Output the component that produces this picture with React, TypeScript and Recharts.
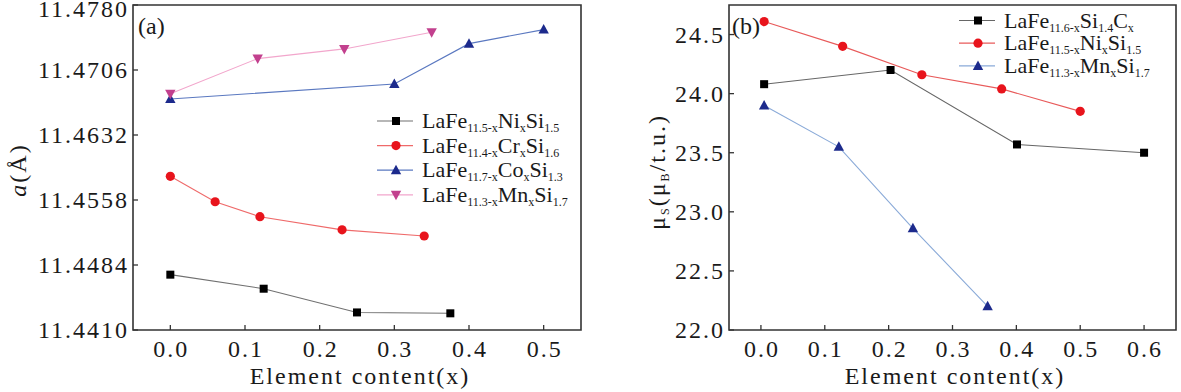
import React from 'react';
import { LineChart, Line, XAxis, YAxis, ReferenceArea } from 'recharts';

const FONT = '"Liberation Serif", "DejaVu Serif", serif';
const TXT = { fontFamily: FONT };

// panel (a): lattice parameter
const niX = [0, 0.125, 0.25, 0.375];
const niA = [11.4473, 11.4457, 11.443, 11.4429];
const crX = [0, 0.06, 0.12, 0.23, 0.34];
const crA = [11.4585, 11.4556, 11.4539, 11.4524, 11.4517];
const coX = [0, 0.3, 0.4, 0.5];
const coA = [11.4673, 11.469, 11.4736, 11.4752];
const mnX = [0, 0.117, 0.233, 0.35];
const mnA = [11.4679, 11.4719, 11.473, 11.4749];

// panel (b): saturation moment
const cX = [0.005, 0.203, 0.401, 0.6];
const cMu = [24.08, 24.2, 23.57, 23.5];
const ni2X = [0.005, 0.128, 0.252, 0.377, 0.5];
const ni2Mu = [24.61, 24.4, 24.16, 24.04, 23.85];
const mn2X = [0.005, 0.122, 0.238, 0.355];
const mn2Mu = [23.9, 23.55, 22.86, 22.2];

const aTicks = [11.441, 11.4484, 11.4558, 11.4632, 11.4706, 11.478];
const muTicks = [22, 22.5, 23, 23.5, 24, 24.5];
const xTicksA = [0, 0.1, 0.2, 0.3, 0.4, 0.5];
const xTicksB = [0, 0.1, 0.2, 0.3, 0.4, 0.5, 0.6];

type Part = [string, boolean];
const legA: Part[][] = [
  [['LaFe', false], ['11.5-x', true], ['Ni', false], ['x', true], ['Si', false], ['1.5', true]],
  [['LaFe', false], ['11.4-x', true], ['Cr', false], ['x', true], ['Si', false], ['1.6', true]],
  [['LaFe', false], ['11.7-x', true], ['Co', false], ['x', true], ['Si', false], ['1.3', true]],
  [['LaFe', false], ['11.3-x', true], ['Mn', false], ['x', true], ['Si', false], ['1.7', true]],
];
const legB: Part[][] = [
  [['LaFe', false], ['11.6-x', true], ['Si', false], ['1.4', true], ['C', false], ['x', true]],
  [['LaFe', false], ['11.5-x', true], ['Ni', false], ['x', true], ['Si', false], ['1.5', true]],
  [['LaFe', false], ['11.3-x', true], ['Mn', false], ['x', true], ['Si', false], ['1.7', true]],
];

const zip = (xs: number[], ys: number[]) => xs.map((x, i) => ({ x, y: ys[i] }));

function marker(kind: string, color: string, cx: number, cy: number, key?: any) {
  if (kind === 'square') return <rect key={key} x={cx - 4} y={cy - 4} width={8} height={8} fill={color} />;
  if (kind === 'circle') return <circle key={key} cx={cx} cy={cy} r={4.6} fill={color} />;
  if (kind === 'up')
    return <polygon key={key} points={`${cx},${cy - 5.5} ${cx - 5.2},${cy + 4} ${cx + 5.2},${cy + 4}`} fill={color} />;
  return <polygon key={key} points={`${cx},${cy + 5.5} ${cx - 5.2},${cy - 4} ${cx + 5.2},${cy - 4}`} fill={color} />;
}

function Formula({ x, y, parts, size = 22, sub = 12 }: { x: number; y: number; parts: Part[]; size?: number; sub?: number }) {
  let prev = false;
  return (
    <text x={x} y={y} style={TXT} fontSize={size} fill="#1a1a1a">
      {parts.map(([t, s], i) => {
        const dy = s === prev ? 0 : s ? 4 : -4;
        prev = s;
        return (
          <tspan key={i} dy={dy} fontSize={s ? sub : size}>
            {t}
          </tspan>
        );
      })}
    </text>
  );
}

interface Series {
  data: { x: number; y: number }[];
  line: string;
  fill: string;
  kind: string;
}

function XTick({ x, y, payload }: any) {
  return (
    <text x={x + 1} y={y} dy={32} textAnchor="middle" style={TXT} fontSize={24} letterSpacing={2} fill="#1a1a1a">
      {Number(payload.value).toFixed(1)}
    </text>
  );
}

function makeYTick(digits: number) {
  return ({ x, y, payload }: any) => (
    <text x={x} y={y} dy={8} textAnchor="end" style={TXT} fontSize={24} letterSpacing={2} fill="#1a1a1a">
      {Number(payload.value).toFixed(digits)}
    </text>
  );
}

interface PanelProps {
  width: number;
  yWidth: number;
  right: number;
  xDomain: [number, number];
  yDomain: [number, number];
  xTicks: number[];
  yTicks: number[];
  digits: number;
  series: Series[];
  legend: Part[][];
  legX: number;
  legY: number;
  legStep: number;
  tag: string;
  tagX: number;
  titleX: number;
  yLabel: React.ReactNode;
}

function Panel(p: PanelProps) {
  const overlay = () => (
    <g>
      <text x={p.titleX} y={384} textAnchor="middle" style={TXT} fontSize={24} letterSpacing={2} fill="#1a1a1a">
        Element content(x)
      </text>
      <text x={p.tagX} y={34} style={TXT} fontSize={24} fill="#1a1a1a">
        {p.tag}
      </text>
      {p.legend.map((parts, i) => {
        const cy = p.legY + i * p.legStep;
        const s = p.series[i];
        return (
          <g key={i}>
            <line x1={p.legX} x2={p.legX + 36} y1={cy} y2={cy} stroke={s.line} strokeWidth={1.2} />
            {marker(s.kind, s.fill, p.legX + 19, cy)}
            <Formula x={p.legX + 45} y={cy + 7} parts={parts} />
          </g>
        );
      })}
      {p.yLabel}
    </g>
  );

  return (
    <LineChart width={p.width} height={392} margin={{ top: 5, right: p.right, left: 0, bottom: 0 }}>
      <XAxis
        dataKey="x"
        type="number"
        domain={p.xDomain}
        ticks={p.xTicks}
        allowDataOverflow
        axisLine={false}
        tickSize={-5}
        tickMargin={0}
        tickLine={{ stroke: '#333', strokeWidth: 1.3 }}
        tick={<XTick />}
        height={62}
        label={overlay}
      />
      <YAxis
        type="number"
        domain={p.yDomain}
        ticks={p.yTicks}
        allowDataOverflow
        axisLine={false}
        tickSize={-5}
        tickMargin={9}
        tickLine={{ stroke: '#333', strokeWidth: 1.3 }}
        tick={makeYTick(p.digits)}
        width={p.yWidth}
      />
      <ReferenceArea
        x1={p.xDomain[0]}
        x2={p.xDomain[1]}
        y1={p.yDomain[0]}
        y2={p.yDomain[1]}
        fill="none"
        stroke="#333"
        strokeWidth={1.6}
        fillOpacity={0}
        ifOverflow="visible"
      />
      {p.series.map((s, i) => (
        <Line
          key={i}
          data={s.data}
          dataKey="y"
          type="linear"
          stroke={s.line}
          strokeWidth={1.1}
          isAnimationActive={false}
          dot={(d: any) => marker(s.kind, s.fill, d.cx, d.cy, `${i}-${d.index}`)}
          activeDot={false}
        />
      ))}
    </LineChart>
  );
}

export default function App() {
  const seriesA: Series[] = [
    { data: zip(niX, niA), line: '#707070', fill: '#000000', kind: 'square' },
    { data: zip(crX, crA), line: '#ef6a6a', fill: '#e8141c', kind: 'circle' },
    { data: zip(coX, coA), line: '#5a78c0', fill: '#1c2a8c', kind: 'up' },
    { data: zip(mnX, mnA), line: '#f2a6cc', fill: '#c2408e', kind: 'down' },
  ];
  const seriesB: Series[] = [
    { data: zip(cX, cMu), line: '#666666', fill: '#000000', kind: 'square' },
    { data: zip(ni2X, ni2Mu), line: '#e85a5a', fill: '#e8141c', kind: 'circle' },
    { data: zip(mn2X, mn2Mu), line: '#8aaad8', fill: '#1c2a8c', kind: 'up' },
  ];

  const yLabelA = (
    <text transform="rotate(-90, 26, 170)" x={26} y={170} textAnchor="middle" style={TXT} fontSize={24} letterSpacing={2} fill="#1a1a1a">
      <tspan fontStyle="italic">a</tspan>
      <tspan>(Å)</tspan>
    </text>
  );
  const yLabelB = (
    <text transform="rotate(-90, 65, 172)" x={65} y={172} textAnchor="middle" style={TXT} fontSize={24} letterSpacing={2} fill="#1a1a1a">
      <tspan>μ</tspan>
      <tspan fontSize={12} dy={4}>S</tspan>
      <tspan dy={-4}>(μ</tspan>
      <tspan fontSize={12} dy={4}>B</tspan>
      <tspan dy={-4}>/t.u.)</tspan>
    </text>
  );

  return (
    <div style={{ position: 'absolute', left: 0, top: 0, width: 1181, height: 392, background: '#fff' }}>
      <div style={{ position: 'absolute', left: 0, top: 0 }}>
        <Panel
          width={600}
          yWidth={133}
          right={19}
          xDomain={[-0.05, 0.55]}
          yDomain={[11.441, 11.478]}
          xTicks={xTicksA}
          yTicks={aTicks}
          digits={4}
          series={seriesA}
          legend={legA}
          legX={377}
          legY={121}
          legStep={24.6}
          tag="(a)"
          tagX={138}
          titleX={360}
          yLabel={yLabelA}
        />
      </div>
      <div style={{ position: 'absolute', left: 600, top: 0 }}>
        <Panel
          width={581}
          yWidth={129}
          right={5}
          xDomain={[-0.05, 0.65]}
          yDomain={[22, 24.75]}
          xTicks={xTicksB}
          yTicks={muTicks}
          digits={1}
          series={seriesB}
          legend={legB}
          legX={359}
          legY={20.5}
          legStep={22.7}
          tag="(b)"
          tagX={132}
          titleX={355}
          yLabel={yLabelB}
        />
      </div>
    </div>
  );
}
